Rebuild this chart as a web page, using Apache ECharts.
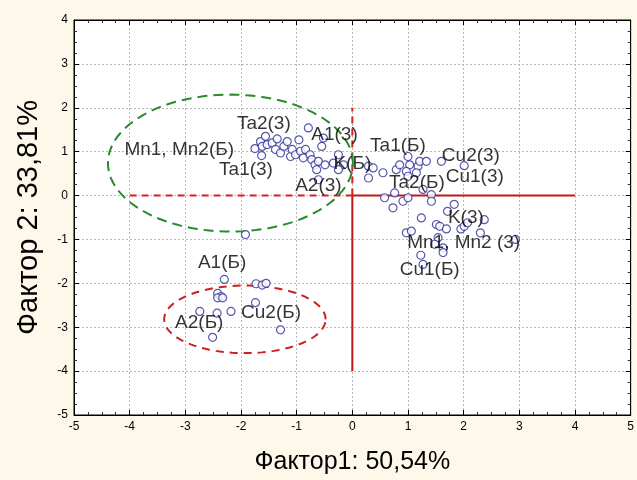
<!DOCTYPE html>
<html><head><meta charset="utf-8">
<script src="https://cdn.jsdelivr.net/npm/echarts@6/dist/echarts.min.js"></script>
<style>html,body{margin:0;padding:0;background:#fdf8e9;}#c{width:637px;height:480px;}</style>
</head><body><div id="c"></div>
<script>
var xTicks = [-5,-4,-3,-2,-1,0,1,2,3,4,5];
var yTicks = [-5,-4,-3,-2,-1,0,1,2,3,4];
var xTitle = 'Фактор1: 50,54%';
var yTitle = 'Фактор 2: 33,81%';

var pointsUpperLeft = [[-1.75,1.07],[-1.65,1.23],[-1.62,1.12],[-1.63,0.91],[-1.56,1.35],[-1.53,1.16],[-1.44,1.20],[-1.38,1.05],[-1.35,1.29],[-1.29,0.97],[-1.23,1.12],[-1.17,1.23],[-1.11,0.89],[-1.08,1.05],[-1.02,0.93],[-0.96,1.27],[-0.93,1.01],[-0.88,0.86],[-0.84,1.05],[-0.79,1.54],[-0.76,0.93],[-0.73,0.82],[-0.67,0.70],[-0.64,0.59],[-0.61,0.78],[-0.55,1.12],[-0.52,1.31],[-0.49,0.70],[-0.61,0.36],[-0.25,0.93],[-0.34,0.74],[-0.16,0.70],[-0.25,0.59]];
var pointsRight = [[0.29,0.67],[0.375,0.63],[0.29,0.40],[0.55,0.52],[0.79,0.59],[0.85,0.70],[1.0,0.89],[1.03,0.70],[0.97,0.55],[1.18,0.67],[1.21,0.78],[1.33,0.78],[1.15,0.52],[1.0,0.44],[1.6,0.78],[2.01,0.68],[0.58,-0.05],[0.76,0.06],[0.73,-0.28],[0.91,-0.13],[1.0,-0.05],[1.27,0.14],[1.42,0.02],[1.42,-0.13],[1.24,-0.51],[1.83,-0.2],[1.71,-0.36],[1.51,-0.66],[1.57,-0.7],[1.69,-0.76],[1.95,-0.76],[2.01,-0.7],[2.07,-0.62],[2.37,-0.55],[2.30,-0.85],[2.93,-1.0],[0.97,-0.85],[1.06,-0.81],[1.54,-0.96],[1.48,-1.11],[1.63,-1.19],[1.63,-1.30],[1.23,-1.36],[1.27,-1.57]];
var pointsLower = [[-1.92,-0.89],[-2.30,-1.91],[-2.42,-2.23],[-2.36,-2.30],[-2.42,-2.33],[-2.33,-2.33],[-1.73,-2.01],[-1.62,-2.04],[-1.55,-2.0],[-1.74,-2.44],[-2.18,-2.64],[-2.74,-2.64],[-2.43,-2.68],[-2.51,-3.23],[-1.29,-3.06]];

var labelNames = ['Ta2(3)','A1(3)','Ta1(Б)','Cu2(3)','Mn1, Mn2(Б)','K(Б)','Cu1(3)','Ta1(3)','A2(3)','Ta2(Б)','K(3)','Mn1, Mn2 (3)','Cu1(Б)','A1(Б)','A2(Б)','Cu2(Б)'];
var labelX = [-1.59,-0.32,0.82,2.13,-3.11,0.0,2.2,-1.91,-0.61,1.16,2.04,2.0,1.39,-2.34,-2.75,-1.46];
var labelY = [1.64,1.39,1.14,0.91,1.05,0.73,0.43,0.59,0.23,0.30,-0.5,-1.07,-1.70,-1.52,-2.89,-2.68];

// ellipses: [centerX, centerY, semiX, semiY]
var ellipseGreen = [[-2.19,0.74,2.2,1.56]];
var ellipseRed = [[-1.93,-2.82,1.45,0.77]];

var redDashH = [[-4,0],[0,0]];
var redDashV = [[0,0],[0,2]];
var redSolidH = [[0,0],[4,0]];
var redSolidV = [[0,0],[0,-4]];

var labelData = labelNames.map(function(n,i){return {name:n, value:[labelX[i],labelY[i]]};});

function ellipseRender(color, dash){
  return function(params, api){
    var cx = api.value(0), cy = api.value(1), a = api.value(2), b = api.value(3);
    var pts = [];
    for (var k=0;k<=120;k++){
      var t = k/120*Math.PI*2;
      pts.push(api.coord([cx + a*Math.cos(t), cy + b*Math.sin(t)]));
    }
    return {type:'polyline', shape:{points:pts}, style:{stroke:color, lineWidth:2, lineDash:dash, fill:null}, silent:true};
  };
}

var font = 'Liberation Sans, Arial';
var axisCommon = {
  type:'value', min:-5, max:5, interval:1,
  axisLine:{show:true, onZero:false, lineStyle:{color:'#000', width:1}},
  axisTick:{show:true, inside:true, length:5, lineStyle:{color:'#000'}},
  minorTick:{show:true, splitNumber:4, length:3, lineStyle:{color:'#333'}},
  axisLabel:{color:'#000', fontSize:12, fontFamily:font, margin:6},
};
var sym = {type:'scatter', symbol:'circle', symbolSize:8, itemStyle:{color:'#fff', borderColor:'#2e2e96', borderWidth:1.2}, z:5};

var chart = echarts.init(document.getElementById('c'));
chart.setOption({
  backgroundColor:'#fdf8e9',
  animation:false,
  grid:{left:74, right:2, top:20, bottom:65, show:true, backgroundColor:'#fff', borderColor:'#000', borderWidth:1},
  xAxis:[
    Object.assign({}, axisCommon, {position:'bottom', name:xTitle, nameLocation:'middle', nameGap:35,
      nameTextStyle:{fontSize:25, color:'#000', fontFamily:font},
      splitLine:{show:true, lineStyle:{color:'#b8b8b8', type:[2,2], width:1}}}),
    Object.assign({}, axisCommon, {position:'top', axisLabel:{show:false}, splitLine:{show:false}})
  ],
  yAxis:[
    Object.assign({}, axisCommon, {max:4, position:'left', name:yTitle, nameLocation:'middle', nameGap:31,
      nameTextStyle:{fontSize:29, color:'#000', fontFamily:font},
      splitLine:{show:true, lineStyle:{color:'#b8b8b8', type:[2,2], width:1}}}),
    Object.assign({}, axisCommon, {max:4, position:'right', axisLabel:{show:false}, splitLine:{show:false}})
  ],
  series:[
    {type:'line', data:redDashH, symbol:'none', lineStyle:{color:'#d42020', width:2, type:[7,5]}, z:3},
    {type:'line', data:redDashV, symbol:'none', lineStyle:{color:'#d42020', width:2, type:[7,5]}, z:3},
    {type:'line', data:redSolidH, symbol:'none', lineStyle:{color:'#c01818', width:2}, z:3},
    {type:'line', data:redSolidV, symbol:'none', lineStyle:{color:'#c01818', width:2}, z:3},
    {type:'custom', data:ellipseGreen, renderItem:ellipseRender('#2a8a2a',[10,6]), z:4},
    {type:'custom', data:ellipseRed, renderItem:ellipseRender('#cc2020',[8,6]), z:4},
    Object.assign({data:pointsUpperLeft}, sym),
    Object.assign({data:pointsRight}, sym),
    Object.assign({data:pointsLower}, sym),
    {type:'scatter', data:labelData, symbolSize:0, z:6,
      label:{show:true, position:'inside', formatter:'{b}', color:'#000', fontSize:19, fontFamily:font}}
  ]
});
</script></body></html>
